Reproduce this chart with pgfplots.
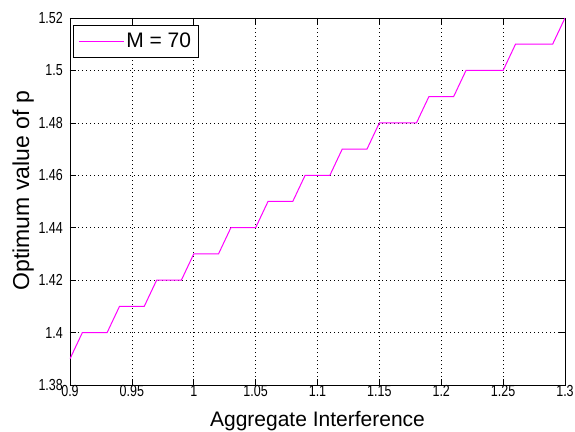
\documentclass[border=0pt]{standalone}
\usepackage{pgfplots}
\pgfplotsset{compat=1.18}
\usepackage{fontspec}
\setmainfont{Liberation Sans}
\newfontfamily\tickfont[FakeStretch=0.78]{Liberation Sans}
\definecolor{pinkline}{RGB}{255,0,255}
\newcommand{\tickfs}{\tickfont\fontsize{16}{16}\selectfont}
\begin{document}
\begin{tikzpicture}
\begin{axis}[
  scale only axis, width=495pt, height=367pt,
  xmin=0.9, xmax=1.3, ymin=1.38, ymax=1.52,
  xtick={0.9,0.95,1,1.05,1.1,1.15,1.2,1.25,1.3},
  ytick={1.38,1.4,1.42,1.44,1.46,1.48,1.5,1.52},
  /pgf/number format/assume math mode=true,
  /pgf/number format/fixed, /pgf/number format/precision=2,
  xticklabel={\tickfs\pgfmathprintnumber{\tick}},
  yticklabel={\tickfs\pgfmathprintnumber{\tick}},
  tick align=inside, major tick length=6pt,
  tick style={black, line width=0.6pt},
  axis line style={black, line width=0.8pt},
  grid=major, grid style={black, line width=0.6pt, dash pattern=on 1pt off 3pt},
  xticklabel style={inner sep=1pt, yshift=1pt},
  yticklabel style={inner sep=1pt, xshift=-6pt},
  xlabel={Aggregate Interference},
  ylabel={Optimum value of p},
  xlabel style={font=\fontsize{21}{24}\selectfont, at={(axis description cs:0.5,0)}, anchor=north, inner sep=0pt, yshift=-26pt},
  ylabel style={font=\fontsize{23}{26}\selectfont, at={(axis description cs:0,0.529)}, anchor=south, rotate=0, inner sep=0pt, yshift=36pt},
  legend style={at={(0.006,0.981)}, anchor=north west, draw=black, line width=0.6pt,
    inner xsep=5pt, inner ysep=6pt, nodes={inner sep=2pt}},
  legend image code/.code={\draw[#1, line width=1pt] (1pt,0pt) -- (46pt,0pt);},
]
\addplot[color=pinkline, line width=1pt] coordinates {
  (0.90,1.39)(0.91,1.40)(0.93,1.40)(0.94,1.41)(0.96,1.41)(0.97,1.42)
  (0.99,1.42)(1.00,1.43)(1.02,1.43)(1.03,1.44)(1.05,1.44)(1.06,1.45)
  (1.08,1.45)(1.09,1.46)(1.11,1.46)(1.12,1.47)(1.14,1.47)(1.15,1.48)
  (1.18,1.48)(1.19,1.49)(1.21,1.49)(1.22,1.50)(1.25,1.50)(1.26,1.51)
  (1.29,1.51)(1.30,1.52)
};
\addlegendentry{\fontsize{21}{24}\selectfont M = 70}
\coordinate (sw) at (rel axis cs:0,0);
\end{axis}
\pgfresetboundingbox
\path ([shift={(-70pt,-46pt)}]sw) rectangle ([shift={(505pt,385pt)}]sw);
\end{tikzpicture}
\end{document}
